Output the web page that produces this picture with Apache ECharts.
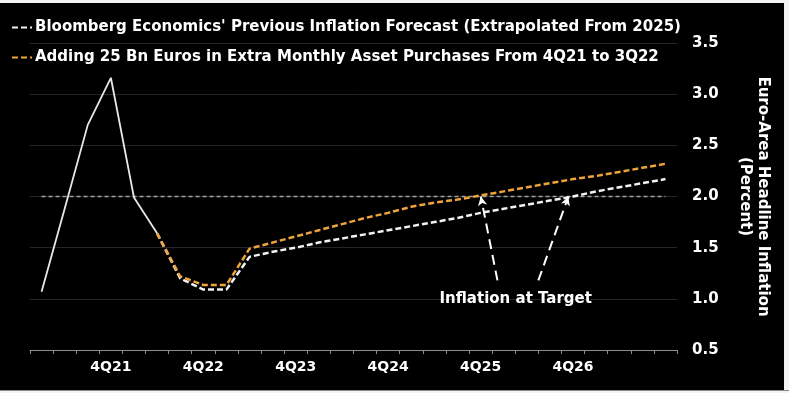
<!DOCTYPE html>
<html>
<head>
<meta charset="utf-8">
<script src="https://cdn.jsdelivr.net/npm/echarts@6/dist/echarts.min.js"></script>
<style>
  html, body { margin: 0; padding: 0; background: #ffffff; }
  #wrap { position: relative; width: 789px; height: 393px; overflow: hidden; }
  #chart { position: absolute; left: 0; top: 0; width: 789px; height: 393px; }
  .strip { position: absolute; background: #f4f4f4; }
</style>
</head>
<body>
<div id="wrap">
  <div id="chart"></div>
  <div class="strip" style="left:0;top:0;width:789px;height:3px;"></div>
  <div class="strip" style="left:784px;top:0;width:5px;height:393px;"></div>
  <div class="strip" style="left:0;top:390px;width:789px;height:3px;border-top:1px solid #8a8a8a;box-sizing:border-box;"></div>
</div>
<script>
// ---- Data ----
const quarters = ['1Q21','2Q21','3Q21','4Q21','1Q22','2Q22','3Q22','4Q22','1Q23','2Q23','3Q23','4Q23',
                  '1Q24','2Q24','3Q24','4Q24','1Q25','2Q25','3Q25','4Q25','1Q26','2Q26','3Q26','4Q26',
                  '1Q27','2Q27','3Q27','4Q27'];
const xTickLabels = ['4Q21','4Q22','4Q23','4Q24','4Q25','4Q26'];
const actualInflation = [1.07,1.88,2.70,3.16,1.99,1.64,null,null,null,null,null,null,null,null,
                         null,null,null,null,null,null,null,null,null,null,null,null,null,null];
const previousForecast = [null,null,null,null,null,1.64,1.20,1.09,1.09,1.41,1.46,1.50,1.55,1.59,
                          1.63,1.67,1.71,1.75,1.79,1.84,1.88,1.92,1.96,2.00,2.05,2.09,2.13,2.17];
const extraPurchases = [null,null,null,null,null,1.64,1.22,1.135,1.135,1.49,1.55,1.61,1.67,1.73,
                        1.79,1.84,1.90,1.94,1.97,2.01,2.05,2.09,2.13,2.17,2.20,2.24,2.28,2.32];
const targetLevel = [2.0,2.0,2.0,2.0,2.0,2.0,2.0,2.0,2.0,2.0,2.0,2.0,2.0,2.0,
                     2.0,2.0,2.0,2.0,2.0,2.0,2.0,2.0,2.0,2.0,2.0,2.0,2.0,2.0];
const yTicks = [0.5,1.0,1.5,2.0,2.5,3.0,3.5];
const seriesNames = ["Bloomberg Economics' Previous Inflation Forecast (Extrapolated From 2025)",
                     "Adding 25 Bn Euros in Extra Monthly Asset Purchases From 4Q21 to 3Q22"];
const annotationText = 'Inflation at Target';
// arrows in (quarter index, percent) data space: [from, to]
const annotationArrows = [[[19.73,1.18],[19.01,2.0]], [[21.50,1.18],[22.80,2.0]]];
const annotationTextAt = [20.52, 1.00];

// ---- Chart ----
const FONT = 'DejaVu Sans';
const DASH_ICON = 'path://M0,0H6V2H0Z M9,0H15V2H9Z M18,0H20V2H18Z';
const chart = echarts.init(document.getElementById('chart'), null, {renderer: 'canvas'});
const option = {
  backgroundColor: '#000000',
  animation: false,
  textStyle: { fontFamily: FONT },
  grid: { left: 30, right: 112, top: 43, bottom: 43 },
  legend: {
    data: seriesNames.map(n => ({ name: n, icon: DASH_ICON })),
    orient: 'vertical',
    left: 12, top: 20,
    padding: 0,
    itemGap: 15,
    itemWidth: 20, itemHeight: 2.2,
    textStyle: { color: '#ffffff', fontWeight: 'bold', fontSize: 15, fontFamily: FONT, padding: [0,0,0,-2] },
    selectedMode: false
  },
  xAxis: [{
    type: 'category',
    data: quarters,
    boundaryGap: true,
    axisLine: { lineStyle: { color: '#8c8c8c', width: 1 } },
    axisTick: { show: true, interval: 0, length: 4, lineStyle: { color: '#8c8c8c' } },
    axisLabel: {
      color: '#ffffff', fontWeight: 'bold', fontSize: 14, fontFamily: FONT, margin: 10,
      interval: 0,
      formatter: v => xTickLabels.indexOf(v) >= 0 ? v : ''
    },
    splitLine: { show: false }
  }, {
    type: 'value', min: -0.5, max: quarters.length - 0.5, show: false
  }],
  yAxis: {
    type: 'value',
    position: 'right',
    min: yTicks[0], max: yTicks[yTicks.length - 1], interval: 0.5,
    axisLine: { show: false },
    axisTick: { show: false },
    axisLabel: { color: '#ffffff', fontWeight: 'bold', fontSize: 15, fontFamily: FONT, margin: 15,
                 formatter: v => v.toFixed(1) },
    splitLine: { lineStyle: { color: '#262626', width: 1 } },
    name: 'Euro-Area Headline Inflation\n(Percent)',
    nameLocation: 'middle',
    nameRotate: -90,
    nameGap: 59,
    nameTextStyle: { color: '#ffffff', fontWeight: 'bold', fontSize: 15, fontFamily: FONT, lineHeight: 18 }
  },
  series: [
    {
      name: 'target', type: 'line', data: targetLevel, symbol: 'none', silent: true, z: 1,
      lineStyle: { color: '#a0a0a0', width: 1.5, type: [4, 3] }
    },
    {
      name: seriesNames[0], type: 'line', data: previousForecast, symbol: 'none', z: 3,
      color: '#f2f2f2',
      lineStyle: { color: '#f2f2f2', width: 2.5, type: [6, 3] }
    },
    {
      name: seriesNames[1], type: 'line', data: extraPurchases, symbol: 'none', z: 4,
      color: '#eea43a',
      lineStyle: { color: '#eea43a', width: 2.5, type: [6, 3] }
    },
    {
      name: 'actual', type: 'line', data: actualInflation, symbol: 'none', z: 5,
      lineStyle: { color: '#e8e8e8', width: 1.8, type: 'solid' }
    },
    {
      name: 'annotation', type: 'line', xAxisIndex: 1, data: [], symbol: 'none', silent: true, z: 6,
      markLine: {
        silent: true, animation: false,
        symbol: ['none', 'arrow'], symbolSize: [7, 9],
        label: { show: false },
        lineStyle: { color: '#ffffff', width: 2, type: [10, 6] },
        data: annotationArrows.map(a => [{ coord: a[0] }, { coord: a[1] }])
      },
      markPoint: {
        silent: true, animation: false,
        symbol: 'circle', symbolSize: 0,
        label: { show: true, position: 'inside', color: '#ffffff', fontWeight: 'bold', fontSize: 15,
                 fontFamily: FONT, formatter: annotationText },
        data: [{ coord: annotationTextAt }]
      }
    }
  ]
};
chart.setOption(option);
</script>
</body>
</html>
